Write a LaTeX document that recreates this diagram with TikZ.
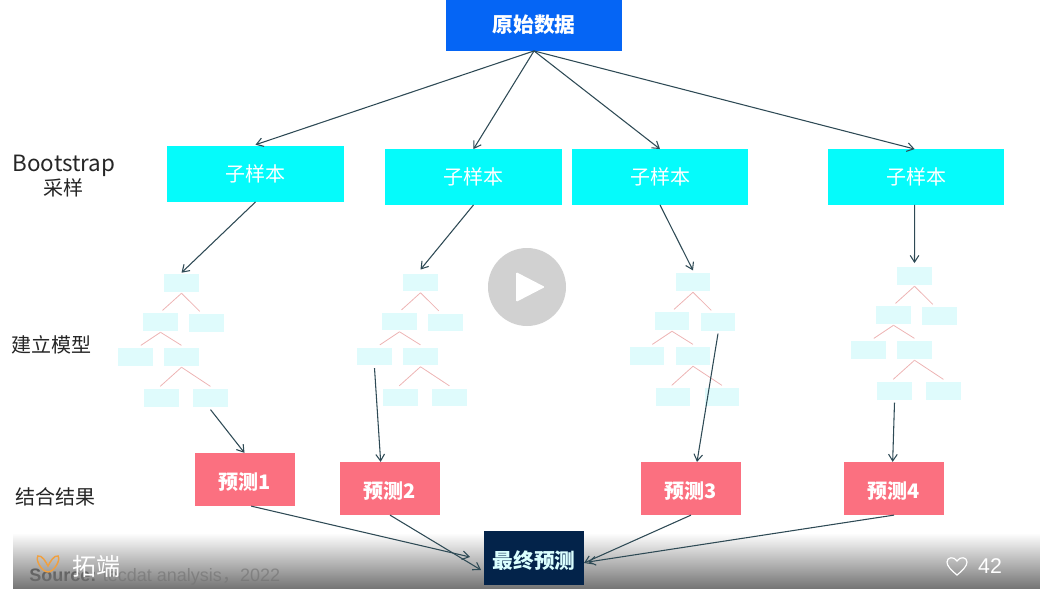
\documentclass[tikz,border=0pt]{standalone}
\usepackage{fontspec}
\setmainfont{Liberation Sans}
\newfontfamily\cjk{Noto Sans CJK SC}
\usepackage{tikz}
\usetikzlibrary{arrows.meta,fadings}
\definecolor{KBlue}{HTML}{0565F5}
\definecolor{KCyan}{HTML}{05FBFB}
\definecolor{KPink}{HTML}{FB7080}
\definecolor{KNavy}{HTML}{03234A}
\definecolor{KLeaf}{HTML}{DFFBFC}
\definecolor{KBranch}{HTML}{EDB4B4}
\definecolor{KArrow}{HTML}{2E4A55}
\definecolor{KLogo}{HTML}{F0A040}
\tikzfading[name=barfade,top color=transparent!100,bottom color=transparent!0]
\tikzset{
  box/.style={rectangle,inner sep=0pt,text=white,font=\cjk\fontsize{15}{15}\selectfont},
  topbox/.style={box,fill=KBlue,minimum width=132pt,minimum height=38.5pt,font=\cjk\bfseries\fontsize{15.5}{15}\selectfont},
  samplebox/.style={box,fill=KCyan,minimum width=132.5pt,minimum height=41.5pt},
  predbox/.style={box,fill=KPink,minimum width=75pt,minimum height=39.5pt,text height=15pt,text depth=0pt,font=\cjk\bfseries\fontsize{15}{15}\selectfont},
  finalbox/.style={box,fill=KNavy,minimum width=75pt,minimum height=40.5pt,text height=15pt,text depth=0pt,text=white!85!KCyan,font=\cjk\bfseries\fontsize{15.5}{15}\selectfont},
  leaf/.style={rectangle,fill=KLeaf,minimum width=26pt,minimum height=13pt,inner sep=0pt},
  branch/.style={draw=KBranch,line width=0.6pt},
  flow/.style={draw=KArrow,line width=0.8pt,-{Straight Barb[length=5pt,width=6.5pt]}},
  sidelabel/.style={inner sep=0pt,align=center,text=black!85,font=\cjk\fontsize{15}{18}\selectfont},
}
\newcommand{\modeltree}[3]{% {name}{x}{y}
  \begin{scope}[shift={(#2,#3)}]
    \node[leaf] (#1r) at (0,0) {};
    \node[leaf] (#1a) at (-21,39) {};
    \node[leaf] (#1b) at (25,40) {};
    \node[leaf] (#1c) at (-46,74) {};
    \node[leaf] (#1d) at (0,74) {};
    \node[leaf] (#1e) at (-20,115) {};
    \node[leaf] (#1f) at (29,115) {};
    \draw[branch] ([yshift=-1pt]#1r.south) -- ([xshift=1.5pt,yshift=2pt]#1a.north);
    \draw[branch] ([yshift=-1pt]#1r.south) -- ([xshift=-5pt,yshift=2pt]#1b.north);
    \draw[branch] ([yshift=-1pt]#1a.south) -- ([xshift=4pt,yshift=2pt]#1c.north);
    \draw[branch] ([yshift=-1pt]#1a.south) -- ([yshift=2pt]#1d.north);
    \draw[branch] ([yshift=-1pt]#1d.south) -- ([xshift=-1pt,yshift=2pt]#1e.north);
    \draw[branch] ([yshift=-1pt]#1d.south) -- ([yshift=2pt]#1f.north);
  \end{scope}}

\begin{document}
\begin{tikzpicture}[x=0.75pt,y=-0.75pt]
  \useasboundingbox (0,0) rectangle (1043,589);

  % caption and the dark bar over it
  \node[anchor=west,inner sep=0pt,font=\fontsize{13.5}{15}\selectfont,text=black!75] (source) at (29,577)
    {\textbf{Source:} \textcolor{black!35}{tecdat analysis{\cjk，}2022}};
  \fill[black!55,path fading=barfade] (13,533) rectangle (1040,589);

  \node[topbox] (data) at (534,25) {原始数据};
  \node[samplebox] (sampleA) at (255.5,174) {子样本};
  \node[samplebox] (sampleB) at (473.5,177) {子样本};
  \node[samplebox] (sampleC) at (660,177) {子样本};
  \node[samplebox] (sampleD) at (916,177) {子样本};

  \node[sidelabel] (lboot) at (64,176) {\fontsize{16.8}{18}\selectfont Bootstrap\\采样};
  \node[sidelabel] (lmodel) at (52,345) {建立模型};
  \node[sidelabel] (lcomb) at (56,497) {结合结果};

  \modeltree{ta}{181.5}{283}
  \modeltree{tb}{420.5}{282.5}
  \modeltree{tc}{693}{282}
  \modeltree{td}{914.5}{276}

  \node[predbox] (predA) at (244.5,479.5) {预测1};
  \node[predbox] (predB) at (390,488.5) {预测2};
  \node[predbox] (predC) at (691,488.5) {预测3};
  \node[predbox] (predD) at (894,488.5) {预测4};
  \node[finalbox] (final) at (534,558) {最终预测};

  \coordinate (inA) at (470,557);
  \coordinate (inB) at (481,570);
  \coordinate (inC) at (584,563);
  \coordinate (inD) at (588,562);

  \draw[flow] (data.south) -- ([yshift=1pt]sampleA.north);
  \draw[flow] (data.south) -- (sampleB.north);
  \draw[flow] (data.south) -- (sampleC.north);
  \draw[flow] (data.south) -- ([xshift=-1pt]sampleD.north);

  \draw[flow] (sampleA.south) -- ([yshift=1pt]tar.north);
  \draw[flow] (sampleB.south) -- ([yshift=3pt]tbr.north);
  \draw[flow] (sampleC.south) -- ([yshift=2pt]tcr.north);
  \draw[flow] ([xshift=-1pt]sampleD.south) -- ([yshift=3pt]tdr.north);

  \draw[flow] ([yshift=-2pt]taf.south) -- (predA.north);
  \draw[flow] ([yshift=-2pt]tbc.south) -- ([xshift=-7pt]predB.north);
  \draw[flow] ([yshift=-2pt]tcb.south) -- ([xshift=4.5pt]predC.north);
  \draw[flow] ([yshift=-2pt]tde.south) -- ([xshift=-1pt]predD.north);

  \draw[flow] ([xshift=5pt]predA.south) -- (inA);
  \draw[flow] (predB.south) -- (inB);
  \draw[flow] (predC.south) -- (inC);
  \draw[flow] (predD.south) -- (inD);

  % play button
  \node[circle,fill=black!18,minimum size=58.5pt,inner sep=0pt] (play) at (527,287) {};
  \fill[white,rounded corners=1pt] (516,272) -- (545,287) -- (516,302) -- cycle;

  % logo, account name, likes
  \draw[KLogo,line width=1.1pt] (48,572) .. controls (42,572) and (35,560) .. (38,556) .. controls (42,555) and (46,562) .. (48,566)
    .. controls (50,562) and (54,555) .. (58,556) .. controls (61,560) and (54,572) .. (48,572);
  \node[inner sep=0pt,text=white,font=\cjk\fontsize{18}{18}\selectfont] (brand) at (96,566) {拓端};
  \draw[white,line width=0.9pt] (957,575) .. controls (951,570) and (947,566) .. (947,562)
    .. controls (947,557) and (954,556) .. (957,561) .. controls (960,556) and (967,557) .. (967,562)
    .. controls (967,566) and (963,570) .. (957,575) -- cycle;
  \node[inner sep=0pt,text=white,font=\fontsize{16}{16}\selectfont] (likes) at (990,566) {42};
\end{tikzpicture}
\end{document}
